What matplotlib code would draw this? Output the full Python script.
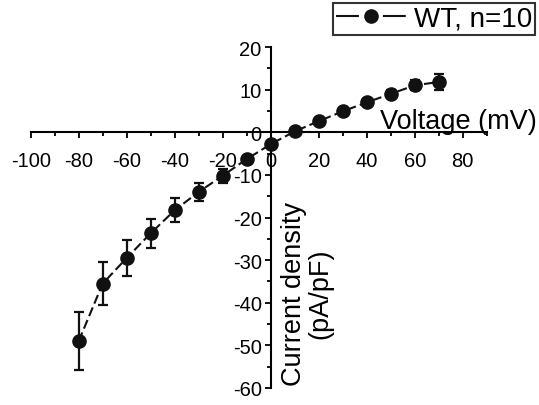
import matplotlib
matplotlib.use("Agg")
import matplotlib.pyplot as plt
from matplotlib.lines import Line2D
from matplotlib.ticker import MultipleLocator

plt.rcParams['font.family'] = ['Liberation Sans', 'DejaVu Sans']
plt.rcParams['axes.unicode_minus'] = False

# I-V relationship, mean +/- SEM
voltage = [-80, -70, -60, -50, -40, -30, -20, -10, 0, 10, 20, 30, 40, 50, 60, 70]
current = [-49.0, -35.5, -29.5, -23.7, -18.3, -14.0, -10.2, -6.3, -2.8,
           0.2, 2.6, 4.9, 7.0, 9.0, 11.0, 11.8]
sem = [6.8, 5.0, 4.3, 3.4, 2.8, 2.2, 1.6, 0.8, 0.5,
       0.4, 0.5, 0.6, 0.7, 0.8, 1.2, 1.9]
series_label = "WT, n=10"
x_label = "Voltage (mV)"
y_label = "Current density\n(pA/pF)"

W, H = 539, 406
ink = '#111111'
fig = plt.figure(figsize=(W / 100, H / 100), dpi=100)
ax = fig.add_axes([30.7 / W, 1 - 389 / H, (486.7 - 30.7) / W, (389 - 48) / H])

ax.errorbar(voltage, current, yerr=sem, fmt='o', color=ink,
            ecolor=ink, elinewidth=1.6, capsize=3.5, capthick=1.6,
            markersize=9.5, linestyle=(0, (4.5, 2)), linewidth=1.5,
            zorder=3)

ax.set_xlim(-100, 90)
ax.set_ylim(-60, 20)

for side in ('top', 'right'):
    ax.spines[side].set_visible(False)
ax.spines['left'].set_position(('data', 0))
ax.spines['bottom'].set_position(('data', 0))
ax.spines['left'].set_linewidth(1.5)
ax.spines['bottom'].set_linewidth(1.5)

ax.xaxis.set_minor_locator(MultipleLocator(10))
ax.yaxis.set_major_locator(MultipleLocator(10))
ax.yaxis.set_minor_locator(MultipleLocator(5))
ax.set_xticks(range(-100, 81, 20))
ax.tick_params(axis='both', which='major', length=4.5, width=1.3,
               labelsize=14.5, direction='out', pad=2)
ax.tick_params(axis='both', which='minor', length=3, width=1.3, direction='out')
ax.tick_params(axis='x', which='major', pad=9)

fig.text(537 / W, 1 - 129 / H, x_label, ha='right', va='baseline', fontsize=19.5)
fig.text(307 / W, 1 - 294 / H, y_label, ha='center', va='center',
         rotation=90, fontsize=19.5, multialignment='center', linespacing=1.0)

# legend key: one dash on each side of the marker
handle = Line2D([], [], color=ink, marker='o', markersize=9.5,
                linestyle=(0, (11, 11.5, 11, 20)), linewidth=1.5)
leg = fig.legend([handle], [series_label], loc='upper right',
                 bbox_to_anchor=(535 / W, 1 - 4 / H),
                 bbox_transform=fig.transFigure, borderaxespad=0,
                 fontsize=20, frameon=True, fancybox=False,
                 handlelength=2.5, handletextpad=0.3, borderpad=0.1)
leg.get_frame().set_edgecolor('black')
leg.get_frame().set_linewidth(1.5)

fig.savefig("out.png", dpi=100)
